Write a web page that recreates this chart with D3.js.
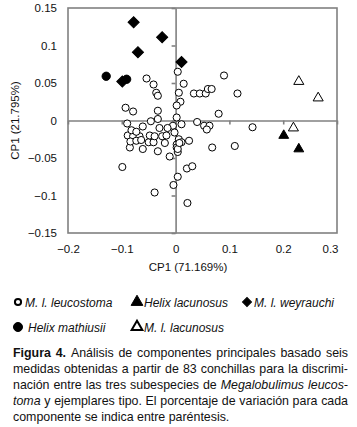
<!DOCTYPE html>
<html>
<head>
<meta charset="utf-8">
<script src="https://cdn.jsdelivr.net/npm/d3@7"></script>
<style>
  body { margin: 0; background: #fff; }
  svg { display: block; font-family: "Liberation Sans", Arial, sans-serif; }
</style>
</head>
<body>
<div id="chart"></div>
<script>
/**
 * Data (PCA scores)
 */
const leucostoma = [
  [-0.054, 0.056], [-0.041, 0.048], [-0.036, 0.037], [-0.033, 0.033], [-0.093, 0.017],
  [-0.079, 0.012], [-0.033, 0.013], [-0.033, 0.002], [0.004, 0.065], [0.015, 0.049],
  [0.090, 0.060], [0.006, 0.037], [0.034, 0.036], [0.045, 0.036], [0.056, 0.036],
  [0.060, 0.042], [0.067, 0.042], [0.115, 0.036], [0.009, 0.025], [0.002, 0.020],
  [0.080, 0.009], [0.002, 0.004], [0.040, -0.002], [0.011, -0.005], [0.053, -0.007],
  [0.063, -0.007], [0.058, -0.012], [0.143, -0.009], [-0.005, -0.007], [-0.002, -0.016],
  [0.006, -0.025], [0.025, -0.027], [0.011, -0.029], [0.002, -0.032], [0.002, -0.036],
  [0.004, -0.042], [0.068, -0.036], [0.110, -0.034], [0.021, -0.064], [0.031, -0.061],
  [0.004, -0.075], [-0.004, -0.086], [0.022, -0.110], [-0.039, -0.096], [-0.099, -0.062],
  [-0.011, -0.048], [-0.033, -0.041], [-0.061, -0.038], [-0.085, -0.036], [-0.050, -0.029],
  [-0.041, -0.029], [-0.020, -0.030], [-0.048, -0.020], [-0.089, -0.020], [-0.079, -0.021],
  [-0.067, -0.021], [-0.082, -0.013], [-0.073, -0.015], [-0.084, -0.028], [-0.073, -0.027],
  [-0.064, -0.026], [-0.090, -0.004], [-0.061, -0.008], [-0.046, -0.001], [-0.030, -0.010],
  [-0.015, -0.010], [-0.039, -0.021], [-0.025, -0.021], [-0.017, -0.020], [0.004, -0.038],
  [0.007, -0.030]
];
const helixLacunosus = [[0.201, -0.020], [0.229, -0.038]];
const weyrauchi = [[-0.078, 0.131], [-0.025, 0.111], [-0.070, 0.091], [0.011, 0.078], [-0.099, 0.052]];
const helixMathiusii = [[-0.129, 0.059], [-0.091, 0.055]];
const lacunosus = [[0.229, 0.052], [0.265, 0.030], [0.219, -0.010]];

const xTicks = [-0.2, -0.1, 0, 0.1, 0.2, 0.3];
const yTicks = [-0.15, -0.1, -0.05, 0, 0.05, 0.1, 0.15];
const xTitle = "CP1 (71.169%)";
const yTitle = "CP1 (21.795%)";

const legendNames = ["M. l. leucostoma", "Helix lacunosus", "M. l. weyrauchi", "Helix mathiusii", "M. l. lacunosus"];

const captionLines = [
  [["Figura 4.", "b"], [" Análisis de componentes principales basado seis", "n"]],
  [["medidas obtenidas a partir de 83 conchillas para la discrimi-", "n"]],
  [["nación entre las tres subespecies de ", "n"], ["Megalobulimus leucos-", "i"]],
  [["toma", "i"], [" y ejemplares tipo. El porcentaje de variación para cada", "n"]],
  [["componente se indica entre paréntesis.", "n"]]
];

/**
 * Basic Settings
 */
const canvasWidth = 357;
const canvasHeight = 427;
const plot = { left: 68, right: 337, top: 8, bottom: 233 };
const frameColor = "#808080";

const svg = d3.select("#chart")
  .append("svg")
  .attr("width", canvasWidth)
  .attr("height", canvasHeight);

const xScale = d3.scaleLinear().domain([-0.2, 0.3]).range([plot.left, plot.right]);
const yScale = d3.scaleLinear().domain([-0.15, 0.15]).range([plot.bottom, plot.top]);

/**
 * Frame and zero axes
 */
svg.append("rect")
  .attr("x", plot.left)
  .attr("y", plot.top)
  .attr("width", plot.right - plot.left)
  .attr("height", plot.bottom - plot.top)
  .attr("fill", "none")
  .attr("stroke", frameColor)
  .attr("stroke-width", 1.6);

const zeroY = svg.append("g")
  .attr("transform", `translate(${xScale(0)},0)`)
  .call(d3.axisLeft(yScale).tickValues(yTicks).tickSize(4).tickSizeOuter(0).tickFormat(""));
const zeroX = svg.append("g")
  .attr("transform", `translate(0,${yScale(0)})`)
  .call(d3.axisBottom(xScale).tickValues(xTicks).tickSize(4).tickSizeOuter(0).tickFormat(""));
[zeroY, zeroX].forEach(g => {
  g.selectAll("path, line").attr("stroke", frameColor).attr("stroke-width", 1.6);
});

/**
 * Tick labels
 */
const yLabels = svg.append("g")
  .attr("transform", `translate(${plot.left},0)`)
  .call(d3.axisLeft(yScale).tickValues(yTicks).tickSize(0).tickPadding(11).tickFormat(d => d3.format("")(+d.toFixed(2))));
const xLabels = svg.append("g")
  .attr("transform", `translate(0,${plot.bottom})`)
  .call(d3.axisBottom(xScale).tickValues(xTicks).tickSize(0).tickPadding(12).tickFormat(d => d3.format("")(+d.toFixed(1))));
[yLabels, xLabels].forEach(g => {
  g.select(".domain").remove();
  g.selectAll("text").attr("font-size", 11.5).attr("fill", "#111").style("font-family", "inherit");
});
xLabels.selectAll(".tick").filter(d => d === 0.3).select("text").attr("dx", -7);

svg.append("text")
  .attr("x", 188)
  .attr("y", 271)
  .attr("text-anchor", "middle")
  .attr("font-size", 11.5)
  .attr("fill", "#111")
  .text(xTitle);

svg.append("text")
  .attr("transform", `translate(19,${yScale(0)}) rotate(-90)`)
  .attr("text-anchor", "middle")
  .attr("font-size", 11.5)
  .attr("fill", "#111")
  .text(yTitle);

/**
 * Points
 */
const series = [
  { data: leucostoma, type: d3.symbolCircle, size: 40, fill: "#fff", rot: 0 },
  { data: lacunosus, type: d3.symbolTriangle, size: 44, fill: "#fff", rot: 0 },
  { data: helixLacunosus, type: d3.symbolTriangle, size: 42, fill: "#000", rot: 0 },
  { data: weyrauchi, type: d3.symbolSquare, size: 62, fill: "#000", rot: 45 },
  { data: helixMathiusii, type: d3.symbolCircle, size: 54, fill: "#000", rot: 0 }
];

series.forEach(s => {
  svg.append("g").selectAll("path")
    .data(s.data)
    .enter()
    .append("path")
    .attr("d", d3.symbol().type(s.type).size(s.size))
    .attr("transform", d => `translate(${xScale(d[0])},${yScale(d[1])}) rotate(${s.rot})`)
    .attr("fill", s.fill)
    .attr("stroke", "#000")
    .attr("stroke-width", 1);
});

/**
 * Legend
 */
const legendItems = [
  { x: 18, y: 302, type: d3.symbolCircle, size: 30, fill: "#fff", sw: 2, rot: 0 },
  { x: 137, y: 302, type: d3.symbolTriangle, size: 60, fill: "#000", sw: 1, rot: 0 },
  { x: 247, y: 302, type: d3.symbolSquare, size: 40, fill: "#000", sw: 1, rot: 45 },
  { x: 18, y: 327, type: d3.symbolCircle, size: 64, fill: "#000", sw: 1, rot: 0 },
  { x: 137, y: 327, type: d3.symbolTriangle, size: 50, fill: "#fff", sw: 2, rot: 0 }
];

legendItems.forEach((it, i) => {
  svg.append("path")
    .attr("d", d3.symbol().type(it.type).size(it.size))
    .attr("transform", `translate(${it.x},${it.y}) rotate(${it.rot})`)
    .attr("fill", it.fill)
    .attr("stroke", "#000")
    .attr("stroke-width", it.sw);
  svg.append("text")
    .attr("x", it.x + (i === 3 ? 10 : 7))
    .attr("y", it.y + 4.5)
    .attr("font-size", 12)
    .attr("font-style", "italic")
    .attr("fill", "#111")
    .text(legendNames[i]);
});

/**
 * Caption (justified)
 */
const capLeft = 13;
const capRight = 348;
const capFont = 12.4;

captionLines.forEach((line, li) => {
  const words = [];
  line.forEach(([txt, st]) => {
    txt.split(" ").forEach(w => {
      if (w === "") return;
      words.push({ w, st });
    });
  });
  const text = svg.append("text")
    .attr("y", 357 + li * 16)
    .attr("font-size", capFont)
    .attr("fill", "#111");
  const spans = words.map(o => text.append("tspan")
    .attr("font-weight", o.st === "b" ? "bold" : null)
    .attr("font-style", o.st === "i" ? "italic" : null)
    .text(o.w));
  const widths = spans.map(s => s.node().getComputedTextLength());
  const total = d3.sum(widths);
  const justify = li < captionLines.length - 1;
  const gap = justify ? (capRight - capLeft - total) / (words.length - 1) : capFont * 0.278;
  let x = capLeft;
  spans.forEach((s, i) => {
    s.attr("x", x);
    x += widths[i] + gap;
  });
});
</script>
</body>
</html>
